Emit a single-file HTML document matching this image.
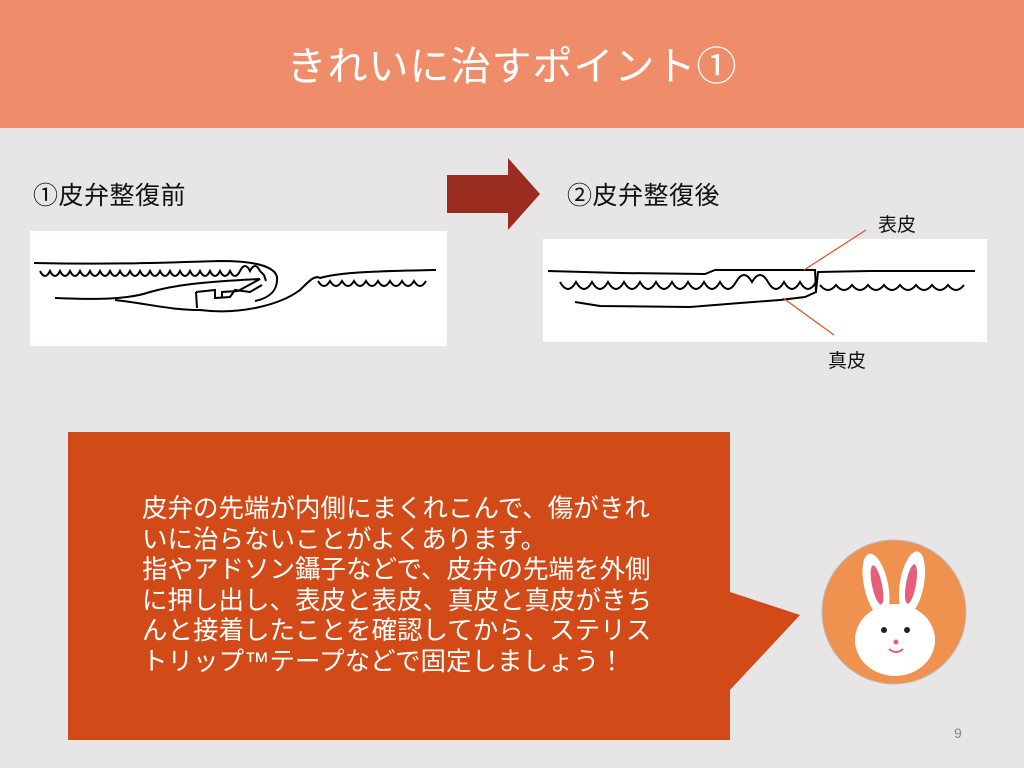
<!DOCTYPE html>
<html><head><meta charset="utf-8"><style>
body{margin:0;width:1024px;height:768px;background:#e7e5e6;position:relative;overflow:hidden;font-family:"Liberation Sans","Noto Sans CJK JP",sans-serif}
.hdr{position:absolute;left:0;top:0;width:1024px;height:128px;background:#ef8c6a;color:#fff;font-size:40px;text-align:center;line-height:134px;letter-spacing:1px}
.t{position:absolute;font-size:25px;color:#111;letter-spacing:0.5px}
.s{position:absolute;font-size:19px;color:#111}
.txt{position:absolute;left:142px;top:494px;color:#fff;font-size:25.5px;line-height:30.5px;white-space:nowrap}
</style></head><body>
<div class="hdr">きれいに治すポイント①</div>
<div class="t" style="left:33px;top:176px">①皮弁整復前</div>
<div class="t" style="left:567px;top:176px">②皮弁整復後</div>
<div class="s" style="left:878px;top:210px">表皮</div>
<div class="s" style="left:828px;top:346px">真皮</div>
<svg width="1024" height="768" style="position:absolute;left:0;top:0">
<polygon points="447,175 508,175 508,158 540,194 508,230 508,213 447,213" fill="#9b2d20"/>
<rect x="30" y="231" width="417" height="115" fill="#fff"/>
<rect x="543" y="239" width="444" height="103" fill="#fff"/>
<g fill="none" stroke="#000" stroke-width="2">
<path d="M34,263 C120,265 180,262 220,261 C260,261 275,268 277,277 C278,290 270,298 255,301"/>
<path d="M40,271 q5,10 10,0 q5,10 10,0 q5,10 10,0 q5,10 10,0 q5,10 10,0 q5,10 10,0 q5,10 10,0 q5,10 10,0 q5,10 10,0 q5,10 10,0 q5,10 10,0 q5,10 10,0 q5,10 10,0 q5,10 10,0 q5,10 10,0 q5,10 10,0 q5,10 10,0 q5,10 10,0 q5,10 10,0 q5,10 10,0 q5,-10 10,0 q5,-10 10,0 l4,4 l2,6"/>
<path d="M55,298 C100,300 130,299 150,292 C175,285 200,282 260,279 L238,291 L222,292 L222,297"/>
<path d="M115,300 C150,304 170,310 200,310 C240,315 280,305 300,290 C310,280 315,275 320,278 C340,272 380,271 436,270"/>
<path d="M196,292 L215,290 L215,298 L230,297 L235,290 L250,292 L262,285 M196,292 L197,308"/>
<path d="M318,281 q6,10 12,0 q6,10 12,0 q6,10 12,0 q6,10 12,0 q6,10 12,0 q6,10 12,0 q6,10 12,0 q6,10 12,0 q6,10 12,0"/>
<path d="M548,271 L620,273 L705,274 L715,270 L815,270 L816,292 L805,297 L780,300 L740,303 L690,307 L600,306 L575,302 M816,291 L818,272 L870,271 L975,271"/>
<path d="M560,282 q8,14 16,0 q8,14 16,0 q8,14 16,0 q8,14 16,0 q8,14 16,0 q8,14 16,0 q8,14 16,0 q8,14 16,0 q8,14 16,0 q8,14 16,0 q8,14 16,0 q8,-14 16,0 q8,-14 16,0 q8,14 16,0 q8,14 16,0 q8,14 16,0 M820,285 q8,10 16,0 q8,10 16,0 q8,10 16,0 q8,10 16,0 q8,10 16,0 q8,10 16,0 q8,10 16,0 q8,10 16,0 q8,10 16,0"/>
</g>
<g stroke="#d9531e" stroke-width="1.2"><line x1="804" y1="270" x2="866" y2="230"/><line x1="783" y1="298" x2="834" y2="335"/></g>
<polygon points="68,432 730,432 730,592 800,615 730,690 730,740 68,740" fill="#d14a18"/>
<circle cx="894" cy="612" r="72" fill="#f0924f" stroke="#bbb" stroke-width="1"/>
<ellipse cx="876" cy="585" rx="12" ry="32" fill="#fff" transform="rotate(-12 876 585)"/>
<ellipse cx="912" cy="583" rx="12" ry="32" fill="#fff" transform="rotate(10 912 583)"/>
<ellipse cx="877" cy="585" rx="5" ry="20" fill="#e65f7a" transform="rotate(-12 877 585)"/>
<ellipse cx="911" cy="584" rx="5" ry="20" fill="#e65f7a" transform="rotate(10 911 584)"/>
<ellipse cx="895" cy="640" rx="40" ry="36" fill="#fff"/>
<circle cx="884" cy="630" r="3" fill="#222"/><circle cx="907" cy="630" r="3" fill="#222"/>
<circle cx="896" cy="642" r="2.5" fill="#e65f7a"/>
<path d="M889,649 q7,6 14,0" stroke="#e65f7a" stroke-width="2" fill="none"/>
<text x="954" y="738" font-size="14" fill="#888" font-family="Liberation Sans">9</text>
</svg>
<div class="txt">皮弁の先端が内側にまくれこんで、傷がきれ<br>いに治らないことがよくあります。<br>指やアドソン鑷子などで、皮弁の先端を外側<br>に押し出し、表皮と表皮、真皮と真皮がきち<br>んと接着したことを確認してから、ステリス<br>トリップ™テープなどで固定しましょう！</div>
</body></html>
